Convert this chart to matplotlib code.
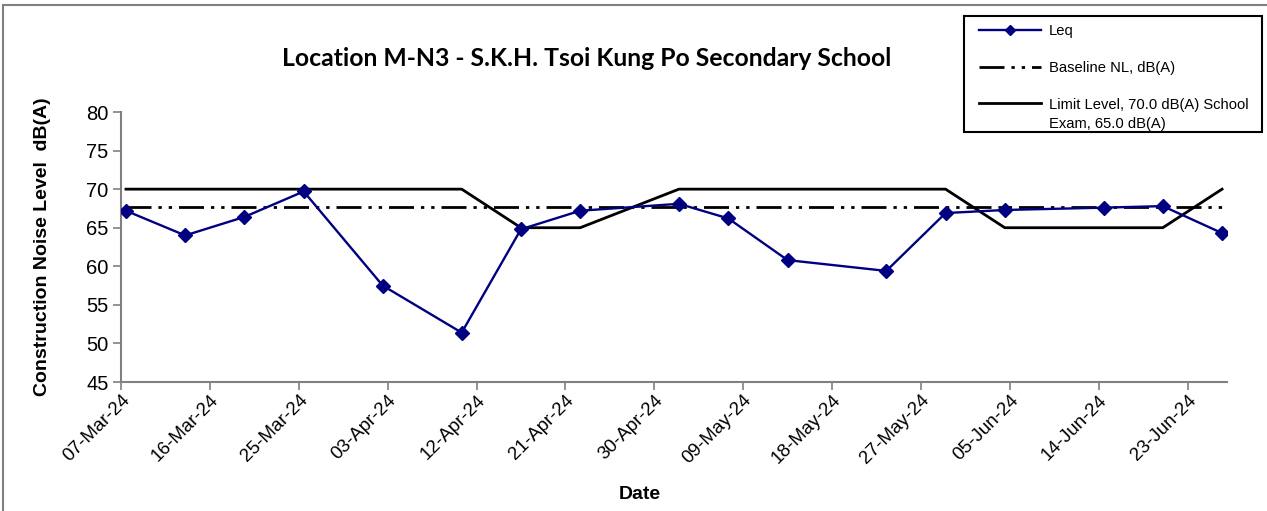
import numpy as np
import pandas as pd
import matplotlib
matplotlib.use("Agg")
import matplotlib.pyplot as plt
import matplotlib.dates as mdates
from matplotlib.patches import Rectangle
from matplotlib.legend_handler import HandlerLine2D

# measurement dates (readings taken around midday)
dates = ["2024-03-07 12:00", "2024-03-13 12:00", "2024-03-19 12:00", "2024-03-25 12:00",
         "2024-04-02 12:00", "2024-04-10 12:00", "2024-04-16 12:00", "2024-04-22 12:00",
         "2024-05-02 12:00", "2024-05-07 12:00", "2024-05-13 12:00", "2024-05-23 12:00",
         "2024-05-29 12:00", "2024-06-04 12:00", "2024-06-14 12:00", "2024-06-20 12:00",
         "2024-06-26 12:00"]
leq = [67.2, 64.0, 66.4, 69.7, 57.5, 51.4, 64.8, 67.2,
       68.1, 66.2, 60.8, 59.4, 66.9, 67.3, 67.6, 67.8, 64.3]
baseline = [67.7] * 17
limit = [70, 70, 70, 70, 70, 70, 65, 65,
         70, 70, 70, 70, 70, 65, 65, 65, 70]

title = "Location M-N3 - S.K.H. Tsoi Kung Po Secondary School"
x_start, x_end = "2024-03-07", "2024-06-27"


class FirstLineHandler(HandlerLine2D):
    # put the legend line level with the first line of a two-line label
    def create_artists(self, legend, orig_handle, xdescent, ydescent, width, height, fontsize, trans):
        arts = super().create_artists(legend, orig_handle, xdescent, ydescent, width, height,
                                      fontsize, trans)
        for a in arts:
            a.set_ydata(np.asarray(a.get_ydata()) + fontsize * 0.8)
        return arts


x = pd.to_datetime(dates)

W, H = 1267, 511
fig = plt.figure(figsize=(W / 100, H / 100), dpi=100)
ax = fig.add_axes([121 / W, 1 - 382 / H, (1227 - 121) / W, (382 - 112) / H])

# outer chart frame
fig.patches.append(Rectangle((3 / W, -0.05), 1.2, 1 - 5 / H + 0.05, transform=fig.transFigure,
                             fill=False, edgecolor="#808080", linewidth=1.5))
# legend frame
fig.patches.append(Rectangle((964 / W, 1 - 132 / H), 298 / W, 116 / H, transform=fig.transFigure,
                             fill=True, facecolor="white", edgecolor="black", linewidth=1.5, zorder=5))

ax.plot(x, leq, color="#000080", linewidth=1.7, marker="D", markersize=7.5, label="Leq", zorder=4)
ax.plot(x, baseline, color="black", linewidth=2, linestyle=(0, (9, 2.5, 1.2, 2.5, 1.2, 2.5)),
        label="Baseline NL, dB(A)", zorder=3)
lim_line, = ax.plot(x, limit, color="black", linewidth=2,
                    label="Limit Level, 70.0 dB(A) School\nExam, 65.0 dB(A)", zorder=2)

ax.set_ylim(45, 80)
ax.set_yticks(np.arange(45, 81, 5))
ax.set_xlim(pd.Timestamp(x_start), pd.Timestamp(x_end))
ticks = pd.date_range(x_start, x_end, freq="9D")
ax.set_xticks(ticks)
ax.xaxis.set_major_formatter(mdates.DateFormatter("%d-%b-%y"))

font = "Liberation Sans"
for lab in ax.get_yticklabels():
    lab.set_fontfamily(font)
    lab.set_fontsize(14.5)
for lab in ax.get_xticklabels():
    lab.set_fontfamily(font)
    lab.set_fontsize(13.5)
    lab.set_rotation(45)
    lab.set_ha("right")
    lab.set_rotation_mode("anchor")

for s in ["top", "right"]:
    ax.spines[s].set_visible(False)
for s in ["left", "bottom"]:
    ax.spines[s].set_color("#808080")
    ax.spines[s].set_linewidth(1.5)
ax.tick_params(axis="both", colors="#808080", length=6, width=1.2, labelcolor="black")
ax.tick_params(axis="x", pad=1)
ax.tick_params(axis="y", pad=3)

ax.set_ylabel("Construction Noise Level  dB(A)", fontfamily=font, fontsize=14, fontweight="bold")
ax.yaxis.set_label_coords(-0.063, 0.5)
ax.set_xlabel("Date", fontfamily=font, fontsize=14, fontweight="bold")
ax.xaxis.set_label_coords(0.469, -0.384)

fig.text(587 / W, 1 - 58 / H, title, fontfamily="Lato", fontsize=17.8, fontweight="bold",
         ha="center", va="center")

leg = fig.legend(loc="upper left", bbox_to_anchor=(969 / W, 1 - 14 / H),
                 bbox_transform=fig.transFigure, borderaxespad=0, frameon=False,
                 prop={"family": font, "size": 10.6}, handlelength=4.2, handletextpad=0.55,
                 labelspacing=1.55, borderpad=0.7, markerscale=0.7,
                 handler_map={lim_line: FirstLineHandler()})
leg.set_zorder(6)
for t in leg.get_texts():
    t.set_linespacing(1.45)

fig.savefig("out.png", dpi=100)
